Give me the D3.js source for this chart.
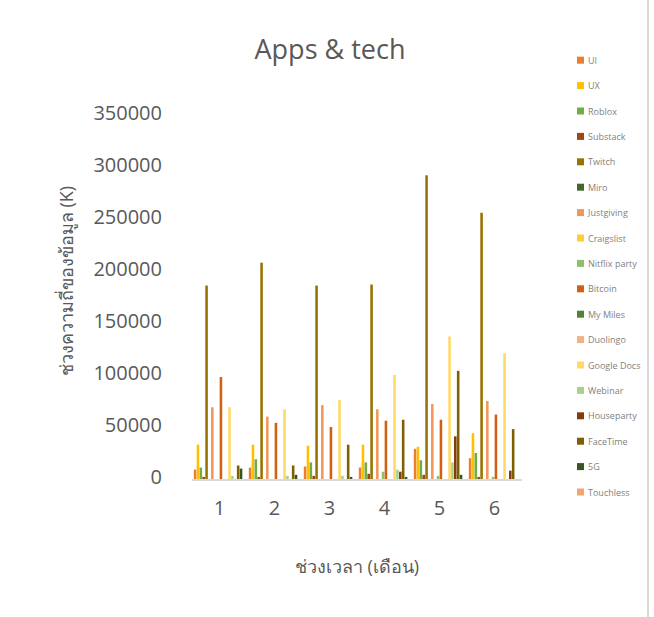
<!DOCTYPE html>
<html>
<head>
<meta charset="utf-8">
<script src="https://cdn.jsdelivr.net/npm/d3@7"></script>
<style>
  html, body { margin: 0; padding: 0; background: #fff; }
  svg { display: block; }
  text { font-family: "Open Sans", "Noto Sans", "DejaVu Sans", sans-serif; }
</style>
</head>
<body>
<div id="chart"></div>
<script>
// ---- data ----
const categories = ["1", "2", "3", "4", "5", "6"];
const seriesNames = ["UI", "UX", "Roblox", "Substack", "Twitch", "Miro", "Justgiving", "Craigslist",
  "Nitflix party", "Bitcoin", "My Miles", "Duolingo", "Google Docs", "Webinar", "Houseparty",
  "FaceTime", "5G", "Touchless"];
const seriesColors = ["#ED7D31", "#FFC000", "#70AD47", "#9E480E", "#997300", "#43682B", "#F1975A",
  "#FFCD33", "#8CC168", "#D26012", "#548235", "#F4B183", "#FFD966", "#A9D18E", "#843C0C",
  "#7F6000", "#375623", "#F4A46E"];
const UI = [9000, 11000, 12000, 11000, 29000, 20000];
const UX = [33000, 33000, 32000, 33000, 31000, 44000];
const Roblox = [11000, 19000, 16000, 16000, 18000, 25000];
const Substack = [2000, 2000, 3000, 5000, 4000, 2000];
const Twitch = [186000, 208000, 186000, 187000, 292000, 256000];
const Miro = [0, 0, 0, 0, 0, 0];
const Justgiving = [69000, 60000, 71000, 67000, 72000, 75000];
const Craigslist = [0, 0, 0, 0, 0, 0];
const NitflixParty = [0, 0, 0, 7000, 3000, 2000];
const Bitcoin = [98000, 54000, 50000, 56000, 57000, 62000];
const MyMiles = [0, 0, 0, 0, 0, 0];
const Duolingo = [0, 0, 0, 0, 0, 0];
const GoogleDocs = [69000, 67000, 76000, 100000, 137000, 121000];
const Webinar = [3000, 3000, 3000, 9000, 16000, 0];
const Houseparty = [0, 0, 0, 7000, 41000, 8000];
const FaceTime = [13000, 13000, 33000, 57000, 104000, 48000];
const FiveG = [10000, 4000, 2000, 2000, 4000, 0];
const Touchless = [0, 0, 0, 0, 0, 0];
const yTicks = [0, 50000, 100000, 150000, 200000, 250000, 300000, 350000];

const seriesValues = [UI, UX, Roblox, Substack, Twitch, Miro, Justgiving, Craigslist, NitflixParty,
  Bitcoin, MyMiles, Duolingo, GoogleDocs, Webinar, Houseparty, FaceTime, FiveG, Touchless];

// ---- chart ----
const W = 654, H = 617;
const svg = d3.select("#chart").append("svg").attr("width", W).attr("height", H);
svg.append("rect").attr("width", W).attr("height", H).attr("fill", "#fff");

const plot = { left: 192, right: 522, top: 115, bottom: 479 };

const x0 = d3.scaleBand().domain(categories).range([plot.left, plot.right])
  .paddingInner(0.06).paddingOuter(0.03);
const x1 = d3.scaleBand().domain(seriesNames).range([0, x0.bandwidth()]).padding(0);
const y = d3.scaleLinear().domain([0, 350000]).range([plot.bottom, plot.top]);

// title
svg.append("text").attr("x", 330).attr("y", 59).attr("text-anchor", "middle")
  .attr("font-size", 27).attr("fill", "#595959").text("Apps & tech");

// y axis labels
const yAxis = d3.axisLeft(y).tickValues(yTicks).tickSize(0).tickPadding(0)
  .tickFormat(d3.format("d"));
const gy = svg.append("g").attr("transform", `translate(162,-2)`).call(yAxis);
gy.select(".domain").remove();
gy.selectAll("text").attr("font-size", 20).attr("fill", "#595959")
  .style("font-family", "'Open Sans', 'Noto Sans', sans-serif");

// bars
const groups = svg.append("g").selectAll("g").data(categories).join("g")
  .attr("transform", d => `translate(${x0(d)},0)`);
groups.selectAll("rect")
  .data((c, ci) => seriesNames.map((s, si) => ({ s, si, v: seriesValues[si][ci] })))
  .join("rect")
  .attr("x", d => x1(d.s) + 0.15)
  .attr("width", x1.bandwidth() - 0.3)
  .attr("y", d => y(d.v))
  .attr("height", d => y(0) - y(d.v))
  .attr("fill", d => seriesColors[d.si]);

// x axis
const xAxis = d3.axisBottom(x0).tickSize(0).tickPadding(0);
const gx = svg.append("g").attr("transform", `translate(0,${plot.bottom})`).call(xAxis);
gx.select(".domain").attr("stroke", "#d9d9d9").attr("stroke-width", 2)
  .attr("d", `M${plot.left},1H${plot.right}`);
gx.selectAll("text").attr("font-size", 20).attr("fill", "#595959").attr("dy", "1.8em")
  .style("font-family", "'Open Sans', 'Noto Sans', sans-serif");

// axis titles
svg.append("text").attr("x", 357).attr("y", 573).attr("text-anchor", "middle")
  .attr("font-size", 18).attr("fill", "#595959").text("ช่วงเวลา (เดือน)");
svg.append("text").attr("transform", "translate(73,281) rotate(-90)").attr("text-anchor", "middle")
  .attr("font-size", 18).attr("fill", "#595959").text("ช่วงความถี่ของข้อมูล (K)");

// legend
const leg = svg.append("g").selectAll("g").data(seriesNames).join("g")
  .attr("transform", (d, i) => `translate(577,${60.7 + i * 25.4})`);
leg.append("rect").attr("x", 0).attr("y", -4).attr("width", 7).attr("height", 7)
  .attr("fill", (d, i) => seriesColors[i]);
leg.append("text").attr("x", 11).attr("y", 0).attr("dy", "0.35em").attr("font-size", 9)
  .attr("fill", "#7f7f7f").text(d => d);

// right border
svg.append("line").attr("x1", 648).attr("x2", 648).attr("y1", 0).attr("y2", H)
  .attr("stroke", "#d9d9d9").attr("stroke-width", 2);
</script>
</body>
</html>
